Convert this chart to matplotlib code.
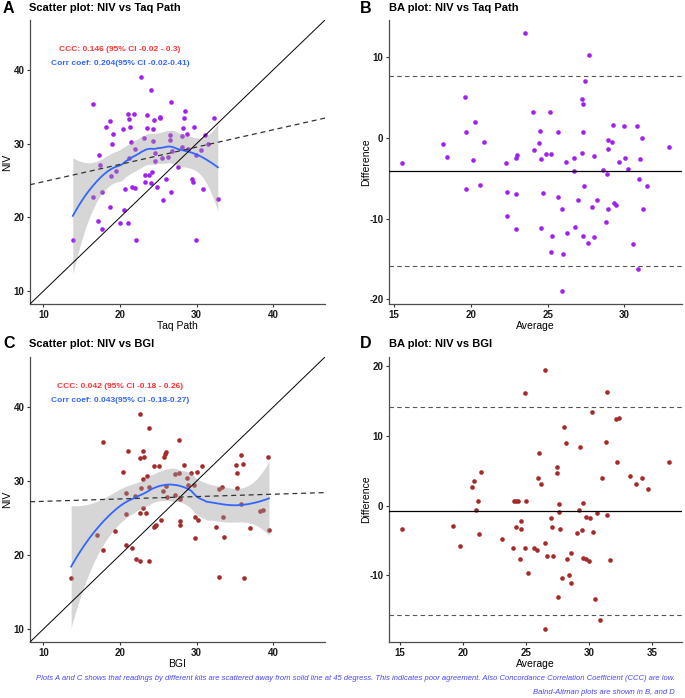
import numpy as np
import matplotlib
matplotlib.use("Agg")
import matplotlib.pyplot as plt

plt.rcParams["font.family"] = ["Liberation Sans", "DejaVu Sans"]
plt.rcParams["font.weight"] = "bold"
plt.rcParams["axes.unicode_minus"] = False

# Panel A: Taq Path (x) vs NIV (y)
taq_a = [13.84, 16.42, 16.47, 17.20, 17.41, 17.59, 17.16, 17.70, 18.15, 18.75,
         19.10, 19.00, 18.88, 19.44, 18.70, 20.34, 20.69, 20.52, 19.96, 21.08,
         21.16, 21.25, 21.20, 21.47, 21.81, 21.60, 21.90, 21.08, 22.03, 21.94,
         22.72, 23.10, 23.23, 23.23, 23.53, 23.58, 23.84, 24.00, 24.00, 24.18,
         24.35, 24.35, 24.48, 24.60, 24.60, 24.78, 25.20, 25.26, 25.47, 25.60,
         25.95, 26.20, 26.55, 26.55, 26.68, 26.68, 26.77, 27.63, 28.10, 28.19,
         28.15, 28.36, 28.53, 28.80, 28.92, 29.70, 29.35, 29.57, 29.91, 29.91,
         30.60, 30.86, 31.08, 31.50, 32.24, 32.76]
niv_a = [16.97, 35.37, 22.70, 28.44, 27.13, 23.40, 19.44, 18.40, 32.26, 33.12,
         31.23, 30.00, 25.60, 26.32, 21.38, 31.95, 23.81, 20.93, 19.22, 34.02,
         33.34, 32.26, 27.99, 30.24, 34.06, 24.17, 24.03, 19.22, 16.97, 29.25,
         39.00, 30.82, 25.78, 24.80, 33.93, 32.17, 25.78, 37.20, 24.60, 26.10,
         31.99, 30.33, 33.25, 28.66, 27.58, 24.08, 33.43, 33.60, 27.99, 22.36,
         25.20, 28.12, 31.10, 30.46, 35.64, 23.45, 29.02, 26.86, 31.05, 32.08,
         29.56, 33.52, 34.42, 31.27, 29.25, 32.26, 25.20, 24.80, 28.48, 16.97,
         29.11, 23.81, 31.10, 30.00, 33.43, 22.50]

# Panel B: Bland-Altman, NIV vs Taq Path
avg_b = [15.54, 18.18, 18.42, 19.63, 19.70, 19.70, 20.15, 20.28, 20.60, 20.87,
         22.30, 22.38, 22.36, 22.97, 23.03, 22.94, 22.92, 23.50, 24.07, 24.11,
         24.42, 24.48, 24.55, 24.68, 24.59, 24.89, 25.15, 25.22, 25.26, 25.24,
         25.65, 25.65, 25.95, 25.97, 25.93, 26.20, 26.23, 27.68, 26.73, 26.73,
         26.80, 26.97, 27.21, 27.25, 27.32, 27.40, 27.29, 27.38, 27.32, 27.60,
         27.99, 27.90, 28.05, 28.20, 28.59, 28.77, 28.90, 28.90, 28.87, 28.90,
         29.22, 29.27, 29.29, 29.48, 29.65, 29.94, 30.06, 30.24, 30.58, 30.80,
         30.89, 30.97, 31.04, 31.13, 31.19, 31.50, 32.88]
diff_b = [-3.13, -0.70, -2.35, 5.06, 0.74, -6.30, -2.70, 1.93, -5.80, -0.45,
          -3.13, -6.67, -9.70, -2.43, -2.14, -6.95, -11.28, 13.05, 3.29, -1.52,
          -0.62, 0.82, -2.63, -6.87, -11.15, -2.02, 3.21, -1.93, -12.14, -14.16,
          0.74, -7.33, -8.80, -14.40, -19.00, -2.96, -11.73, 10.33, -2.43, -4.07,
          -11.03, -7.74, -1.89, 4.86, 4.20, 7.12, 0.74, -5.93, -12.22, -13.05,
          -2.22, -8.56, -12.26, -7.65, -3.95, -10.41, -0.29, -1.40, -4.44, -8.77,
          -0.45, 1.60, -8.10, -8.31, -2.92, 1.44, -2.47, -3.83, -13.20, 1.44,
          -16.30, -5.14, -2.59, 0.00, -8.85, -5.93, -1.15]

# Panel C: BGI (x) vs NIV (y)
bgi_c = [13.62, 16.94, 17.80, 17.76, 19.31, 20.39, 20.78, 20.73, 20.78, 20.99,
         21.59, 22.07, 22.59, 21.94, 22.63, 22.67, 22.76, 22.67, 23.02, 23.15,
         22.97, 23.02, 23.45, 23.53, 23.79, 23.84, 23.84, 24.40, 24.44, 24.53,
         24.74, 25.13, 25.34, 25.60, 25.73, 25.86, 25.99, 25.95, 26.16, 27.11,
         27.20, 27.67, 27.72, 27.80, 27.89, 27.84, 28.41, 28.71, 28.84, 29.22,
         29.70, 29.74, 29.74, 30.09, 30.13, 30.69, 32.54, 32.89, 32.93, 33.36,
         33.49, 33.58, 35.13, 35.26, 35.26, 35.78, 35.78, 36.08, 36.21, 36.90,
         38.28, 38.62, 39.31, 39.44]
niv_c = [16.92, 22.68, 35.32, 20.70, 23.31, 31.27, 28.39, 25.52, 21.38, 34.02,
         20.93, 19.40, 19.22, 27.94, 39.00, 33.07, 29.02, 25.74, 34.06, 33.30,
         30.28, 26.32, 25.69, 30.69, 29.25, 37.12, 19.22, 32.04, 23.72, 23.94,
         24.12, 31.99, 24.70, 28.62, 33.21, 33.61, 33.88, 29.38, 27.90, 30.91,
         28.08, 35.55, 31.14, 24.63, 24.00, 27.58, 32.17, 30.46, 29.52, 31.05,
         29.43, 25.20, 22.32, 31.27, 24.75, 32.04, 23.81, 28.98, 16.97, 29.16,
         25.11, 22.46, 32.17, 31.14, 29.02, 33.48, 26.86, 32.26, 16.92, 23.63,
         25.92, 26.05, 33.21, 23.40]

# Panel D: Bland-Altman, NIV vs BGI
avg_d = [15.21, 19.20, 19.78, 20.75, 20.88, 21.04, 21.25, 21.28, 21.49, 23.15,
         24.00, 24.08, 24.23, 24.39, 24.20, 24.58, 24.63, 24.66, 24.97, 25.05,
         24.95, 25.21, 25.63, 25.92, 25.95, 26.06, 26.21, 26.50, 26.56, 26.66,
         27.03, 27.11, 27.19, 27.48, 27.48, 27.53, 27.66, 27.66, 27.72, 27.88,
         28.03, 28.22, 28.30, 28.40, 28.56, 28.59, 29.09, 29.22, 29.33, 29.46,
         29.54, 29.56, 29.75, 29.75, 29.99, 30.14, 30.30, 30.36, 30.54, 30.67,
         30.86, 31.02, 31.39, 31.46, 31.49, 31.68, 32.15, 32.39, 32.23, 33.31,
         33.73, 34.23, 34.71, 36.35, 26.56]
diff_d = [-3.32, -2.93, -5.85, 2.75, 3.47, -0.59, 0.70, -4.08, 4.76, -4.84,
          -6.13, 0.70, 0.70, 0.70, -3.12, -7.71, -2.17, -3.36, -6.04, 0.60,
          16.23, -9.67, -6.04, -6.33, 3.95, 7.53, 3.18, -5.42, 19.47, -7.19,
          -1.74, -3.12, -7.19, 5.48, 4.62, -13.11, 0.27, -0.88, -3.41, -10.43,
          11.26, 8.92, -7.71, -10.00, -6.85, -11.06, -3.89, -0.69, 8.44, -3.51,
          0.36, -7.47, -7.62, -1.60, -7.90, -1.84, 13.45, -3.75, -13.40, -1.12,
          -16.36, 4.00, 9.11, -1.31, 16.27, -7.86, 12.40, 12.64, 6.33, 4.23,
          3.09, 3.90, 2.32, 6.24, -17.70]

# Annotation texts
ccc_a = "CCC: 0.146 (95% CI -0.02 - 0.3)"
corr_a = "Corr coef: 0.204(95% CI -0.02-0.41)"
ccc_c = "CCC: 0.042 (95% CI -0.18 - 0.26)"
corr_c = "Corr coef: 0.043(95% CI -0.18-0.27)"
caption_1 = ("Plots A and C shows that readings by different kits are scattered away from solid line "
             "at 45 degress. This indicates poor agreement. Also Concordance Correlation Coefficient (CCC) are low.")
caption_2 = "Balnd-Altman plots are shown in B, and D"

PURPLE = "#A020F0"
BROWN = "#A52A2A"
SMOOTH_BLUE = "#3366FF"
CCC_RED = "#FF3333"
CAPTION_BLUE = "#4646FF"
AXIS_GREY = "#4D4D4D"

W, H = 685, 698


def px(x, y):
  """Pixel position (from top-left) to figure fraction."""
  return x / W, 1 - y / H


def loess(x, y, grid, span=0.75):
  """Local quadratic fit with tricube weights, plus standard errors."""
  n = len(x)
  q = int(np.floor(n * span))

  def row(x0):
    d = np.abs(x - x0)
    h = np.sort(d)[q - 1]
    u = np.clip(d / h, 0, 1)
    w = (1 - u ** 3) ** 3
    X = np.column_stack([np.ones(n), x - x0, (x - x0) ** 2])
    XtW = X.T * w
    return np.linalg.solve(XtW @ X, XtW)[0]

  L = np.array([row(v) for v in x])
  G = np.array([row(v) for v in grid])
  M = np.eye(n) - L
  delta1 = np.trace(M.T @ M)
  sigma = np.sqrt(np.sum((y - L @ y) ** 2) / delta1)
  return G @ y, sigma * np.sqrt(np.sum(G ** 2, axis=1))


def style_axes(ax):
  for side in ("top", "right"):
    ax.spines[side].set_visible(False)
  for side in ("left", "bottom"):
    ax.spines[side].set_color(AXIS_GREY)
    ax.spines[side].set_linewidth(0.9)
  ax.tick_params(length=2.5, width=0.8, color="#333333", labelsize=7,
                 labelcolor="#1A1A1A", pad=1.5)


#______________________________________________________________________________
def scatter_panel(ax, x, y, color, xlabel, ccc_text, corr_text):
  x = np.asarray(x)
  y = np.asarray(y)
  lim = (8.25, 46.75)

  ax.scatter(x, y, s=11, color=color, linewidths=0, zorder=2)

  grid = np.linspace(x.min(), x.max(), 80)
  fit, se = loess(x, y, grid)
  ax.fill_between(grid, fit - 1.99 * se, fit + 1.99 * se, color="#999999",
                  alpha=0.4, linewidth=0, zorder=3)
  ax.plot(grid, fit, color=SMOOTH_BLUE, linewidth=1.3, zorder=4)

  ax.plot(lim, lim, color="black", linewidth=0.7, zorder=5)
  slope, icpt = np.polyfit(x, y, 1)
  xs = np.array(lim)
  ax.plot(xs, icpt + slope * xs, color="#333333", linewidth=0.9,
          linestyle=(0, (4, 3)), zorder=5)

  ax.text(20.0, 42.8, ccc_text, color=CCC_RED, fontsize=6, ha="center", va="center")
  ax.text(20.0, 40.9, corr_text, color=SMOOTH_BLUE, fontsize=6, ha="center", va="center")

  ax.set_xlim(lim)
  ax.set_ylim(lim)
  ax.set_xticks([10, 20, 30, 40])
  ax.set_yticks([10, 20, 30, 40])
  ax.set_xlabel(xlabel, fontsize=7.5)
  ax.set_ylabel("NIV", fontsize=7.5)
  style_axes(ax)


#______________________________________________________________________________
def ba_panel(ax, avg, diff, color, xticks, yticks):
  diff = np.asarray(diff)
  mean = diff.mean()
  sd = diff.std(ddof=1)

  ax.scatter(avg, diff, s=11, color=color, linewidths=0, zorder=2)
  ax.axhline(mean, color="black", linewidth=0.9, zorder=3)
  for lim in (mean - 1.96 * sd, mean + 1.96 * sd):
    ax.axhline(lim, color="#555555", linewidth=0.8, linestyle=(0, (4, 3)), zorder=3)

  ax.margins(0.05)
  ax.set_xticks(xticks)
  ax.set_yticks(yticks)
  ax.set_xlabel("Average", fontsize=7.5)
  ax.set_ylabel("Difference", fontsize=7.5)
  style_axes(ax)


fig = plt.figure(figsize=(W / 100, H / 100), dpi=100)

ax_a = fig.add_axes([30 / W, 1 - 304 / H, 295 / W, 284 / H])
ax_b = fig.add_axes([389 / W, 1 - 304 / H, 293 / W, 284 / H])
ax_c = fig.add_axes([30 / W, 1 - 642 / H, 295 / W, 285 / H])
ax_d = fig.add_axes([389 / W, 1 - 642 / H, 293 / W, 285 / H])

scatter_panel(ax_a, taq_a, niv_a, PURPLE, "Taq Path", ccc_a, corr_a)
ba_panel(ax_b, avg_b, diff_b, PURPLE, [15, 20, 25, 30], [-20, -10, 0, 10])
scatter_panel(ax_c, bgi_c, niv_c, BROWN, "BGI", ccc_c, corr_c)
ba_panel(ax_d, avg_d, diff_d, BROWN, [15, 20, 25, 30, 35], [-10, 0, 10, 20])

for ax in (ax_a, ax_b, ax_c, ax_d):
  w_px = ax.get_position().width * W
  h_px = ax.get_position().height * H
  ax.yaxis.set_label_coords(-18 / w_px, 0.5)
  ax.xaxis.set_label_coords(0.5, -17 / h_px)

# Panel letters and titles
titles = [
  ("A", "Scatter plot: NIV vs Taq Path", 3, 29, 8.3),
  ("B", "BA plot: NIV vs Taq Path", 360, 389, 8.3),
  ("C", "Scatter plot: NIV vs BGI", 3, 29, 344),
  ("D", "BA plot: NIV vs BGI", 360, 389, 344),
]
for letter, title, lx, tx, ty in titles:
  fig.text(*px(lx, ty), letter, fontsize=11.5, va="center", ha="left")
  fig.text(*px(tx, ty), title, fontsize=8, va="center", ha="left")

# Caption: shrink the font so the first line spans the same width as the original
cap1 = fig.text(*px(675, 678), caption_1, fontsize=6, style="italic", weight="normal",
                color=CAPTION_BLUE, ha="right", va="center")
fig.canvas.draw()
cap_size = 6 * 640 / cap1.get_window_extent().width
cap1.set_fontsize(cap_size)
fig.text(*px(675, 692), caption_2, fontsize=cap_size, style="italic", weight="normal",
         color=CAPTION_BLUE, ha="right", va="center")

fig.savefig("out.png", dpi=100)
